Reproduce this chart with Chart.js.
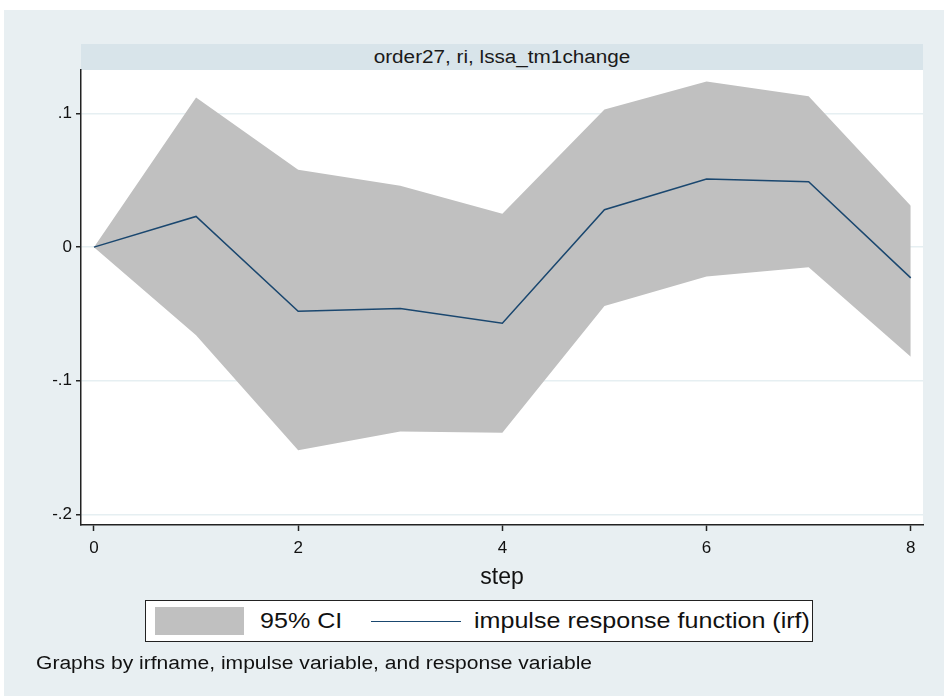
<!DOCTYPE html>
<html>
<head>
<meta charset="utf-8">
<script src="https://cdn.jsdelivr.net/npm/chart.js@4"></script>
<style>
  html,body{margin:0;padding:0;background:#fff;}
  body{width:944px;height:698px;position:relative;overflow:hidden;font-family:"Liberation Sans",Arial,sans-serif;}
  #panel{position:absolute;left:4px;top:10px;width:940px;height:686px;background:#e8eff2;}
  #strip{position:absolute;left:81px;top:44px;width:842px;height:26px;background:#d8e4ea;}
  #strip span{position:absolute;left:0;width:842px;top:0;line-height:26px;text-align:center;font-size:18px;color:#1a1a1a;transform:scaleX(1.15);transform-origin:center;}
  #wrap{position:absolute;left:0;top:0;width:944px;height:698px;}
  #legend{position:absolute;left:145px;top:600px;width:666px;height:40px;background:#fff;border:1.5px solid #222;}
  #legend .sw{position:absolute;left:9px;top:6px;width:89px;height:28px;background:#c0c0c0;}
  #legend .t1{position:absolute;left:114px;top:0;line-height:40px;font-size:22px;color:#111;transform:scaleX(1.14);transform-origin:left center;white-space:nowrap;}
  #legend .ln{position:absolute;left:225px;top:20px;width:90px;height:0;border-top:1.5px solid #1a476f;}
  #legend .t2{position:absolute;left:328px;top:0;line-height:40px;font-size:22px;color:#111;white-space:nowrap;transform:scaleX(1.14);transform-origin:left center;}
  #foot{position:absolute;left:36px;top:652px;font-size:18px;line-height:22px;color:#111;white-space:nowrap;transform:scaleX(1.17);transform-origin:left center;}
</style>
</head>
<body>
<div id="panel"></div>
<div id="strip"><span>order27, ri, lssa_tm1change</span></div>
<div id="wrap"><canvas id="c" width="944" height="698"></canvas></div>
<div id="legend">
  <div class="sw"></div><div class="t1">95% CI</div>
  <div class="ln"></div><div class="t2">impulse response function (irf)</div>
</div>
<div id="foot">Graphs by irfname, impulse variable, and response variable</div>
<script>
const steps = [0, 1, 2, 3, 4, 5, 6, 7, 8];
const irf   = [0, 0.023, -0.048, -0.046, -0.057, 0.028, 0.051, 0.049, -0.023];
const ciUpper = [0, 0.112, 0.058, 0.046, 0.025, 0.103, 0.124, 0.113, 0.031];
const ciLower = [0, -0.066, -0.152, -0.138, -0.139, -0.044, -0.022, -0.015, -0.082];
const yTickValues = [-0.2, -0.1, 0, 0.1];
const yTickLabels = ['-.2', '-.1', '0', '.1'];
const xTickValues = [0, 2, 4, 6, 8];
const xTickLabels = ['0', '2', '4', '6', '8'];
const xTitle = 'step';

const pts = arr => steps.map((s, i) => ({x: s, y: arr[i]}));

const plotBg = {
  id: 'plotBg',
  beforeDraw(chart) {
    const {ctx, chartArea: a} = chart;
    ctx.save();
    ctx.fillStyle = '#ffffff';
    ctx.fillRect(a.left, a.top, a.right - a.left, a.bottom - a.top);
    ctx.restore();
  }
};

new Chart(document.getElementById('c'), {
  type: 'line',
  data: {
    datasets: [
      {label: 'irf', data: pts(irf), borderColor: '#1a476f', borderWidth: 1.5, pointRadius: 0, fill: false, tension: 0, order: 0},
      {label: '95% CI upper', data: pts(ciUpper), borderWidth: 0, borderColor: 'rgba(0,0,0,0)', backgroundColor: '#c0c0c0', pointRadius: 0, fill: '+1', tension: 0, order: 1},
      {label: '95% CI lower', data: pts(ciLower), borderWidth: 0, borderColor: 'rgba(0,0,0,0)', backgroundColor: '#c0c0c0', pointRadius: 0, fill: false, tension: 0, order: 2}
    ]
  },
  options: {
    responsive: false,
    animation: false,
    layout: {padding: {left: 0, top: 70, right: 21, bottom: 103}},
    plugins: {legend: {display: false}, tooltip: {enabled: false}, title: {display: false}},
    scales: {
      x: {
        type: 'linear', min: -0.127, max: 8.12,
        afterBuildTicks(s) { s.ticks = xTickValues.map(v => ({value: v})); },
        afterFit(s) { s.height = 70; },
        ticks: {
          callback: (v) => xTickLabels[xTickValues.indexOf(v)],
          color: '#111', font: {family: 'Liberation Sans', size: 17}, padding: 7, maxRotation: 0
        },
        grid: {drawOnChartArea: false, tickLength: 6, tickColor: '#222', tickWidth: 1.5},
        border: {color: '#222', width: 1.5},
        title: {display: true, text: xTitle, color: '#111', font: {family: 'Liberation Sans', size: 23}, padding: {top: 0, bottom: 4}}
      },
      y: {
        type: 'linear', min: -0.208, max: 0.1326,
        afterBuildTicks(s) { s.ticks = yTickValues.map(v => ({value: v})); },
        afterFit(s) { s.width = 81; },
        ticks: {
          callback: (v) => yTickLabels[yTickValues.indexOf(v)],
          color: '#111', font: {family: 'Liberation Sans', size: 17}, padding: 4
        },
        grid: {color: '#e6eff2', lineWidth: 1.5, tickLength: 5, tickColor: '#222', tickWidth: 1.5},
        border: {color: '#222', width: 1.5}
      }
    }
  },
  plugins: [plotBg]
});
</script>
</body>
</html>
